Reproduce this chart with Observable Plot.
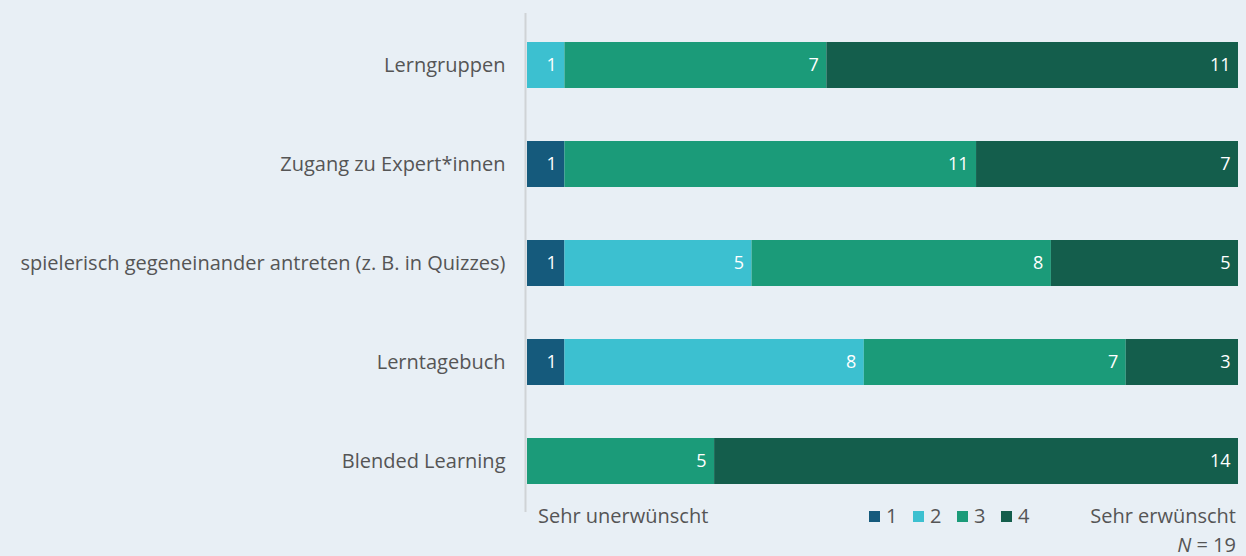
<!DOCTYPE html>
<html><head><meta charset="utf-8">
<script src="https://cdn.jsdelivr.net/npm/d3@7"></script>
<script src="https://cdn.jsdelivr.net/npm/@observablehq/plot@0.6"></script>
<style>
html,body{margin:0;padding:0;background:#e8eff5;}
body{width:1246px;height:556px;overflow:hidden;font-family:"Open Sans",sans-serif;color:#555;}
#foot{position:relative;height:44px;font-size:20px;line-height:20px;}
#foot .abs{position:absolute;white-space:nowrap;}
.sw{display:inline-block;width:11px;height:11px;margin-right:6px;vertical-align:1px;}
.item{display:inline-block;width:44px;}
</style></head>
<body>
<div id="chart"></div>
<div id="foot"></div>
<script>
const categories = ["Lerngruppen","Zugang zu Expert*innen","spielerisch gegeneinander antreten (z. B. in Quizzes)","Lerntagebuch","Blended Learning"];
const levels = ["1","2","3","4"];
const level1 = [0,1,1,1,0];
const level2 = [1,0,5,8,0];
const level3 = [7,11,8,7,5];
const level4 = [11,7,5,3,14];
const colors = ["#155a7c","#3cc0d0","#1b9b79","#145e4c"];
const leftLabel = "Sehr unerwünscht";
const rightLabel = "Sehr erwünscht";
const nLabel = "19";

const series = [level1,level2,level3,level4];
const data = [];
levels.forEach((lv,i)=>categories.forEach((c,j)=>data.push({cat:c,level:lv,value:series[i][j]})));
const nz = data.filter(d=>d.value>0);

const chart = Plot.plot({
  width:1246, height:512,
  marginLeft:527, marginRight:8, marginTop:13, marginBottom:0,
  style:{background:"transparent",fontFamily:"Open Sans, sans-serif"},
  x:{domain:[0,19],axis:null},
  y:{domain:categories,paddingInner:0.54,paddingOuter:0.28,label:null},
  color:{domain:levels,range:colors},
  marks:[
    Plot.axisY({tickSize:0,tickPadding:22,fontSize:20,color:"#555",label:null}),
    Plot.ruleX([0],{stroke:"#cfd3d6",strokeWidth:2,dx:-2}),
    Plot.barX(nz,Plot.stackX({x:"value",y:"cat",fill:"level",z:"level"})),
    Plot.text(nz,Plot.stackX2({x:"value",y:"cat",z:"level",text:"value",textAnchor:"end",dx:-8,fill:"white",fontSize:18}))
  ]
});
document.getElementById("chart").append(chart);

const foot = document.getElementById("foot");
function add(html, css){ const s=document.createElement("span"); s.className="abs"; s.innerHTML=html; Object.assign(s.style,css); foot.append(s); }
add(leftLabel,{left:"538px",top:"-6px"});
add(rightLabel,{right:"10px",top:"-6px"});
add("<i>N</i> = "+nLabel,{right:"10px",top:"23px"});
add(levels.map((lv,i)=>`<span class="item"><span class="sw" style="background:${colors[i]}"></span>${lv}</span>`).join(""),{left:"869px",top:"-6px"});
</script>
</body></html>
